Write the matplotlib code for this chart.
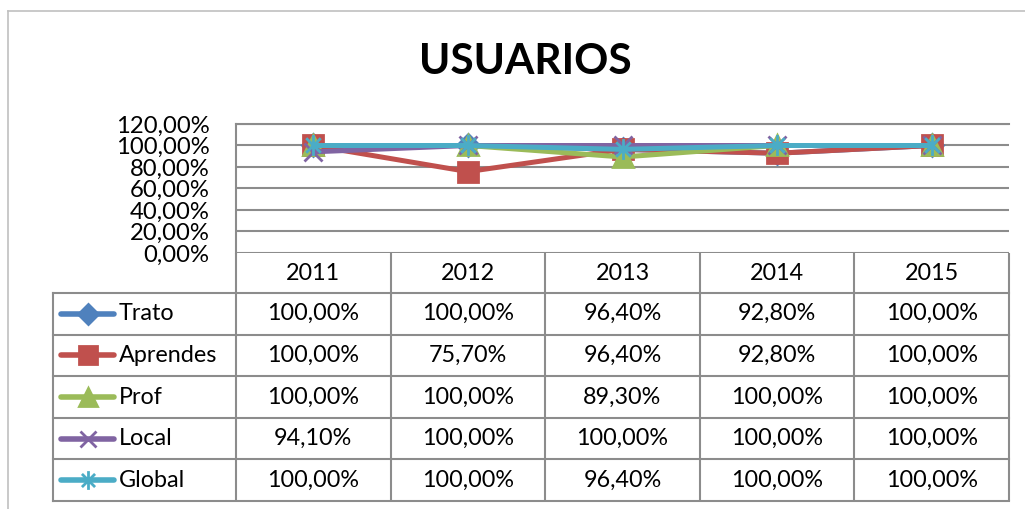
import matplotlib
matplotlib.use('Agg')
import matplotlib.pyplot as plt
from matplotlib.path import Path
from matplotlib.lines import Line2D

# datos
years = ['2011', '2012', '2013', '2014', '2015']
series = ['Trato', 'Aprendes', 'Prof', 'Local', 'Global']
trato = [1.000, 1.000, 0.964, 0.928, 1.000]
aprendes = [1.000, 0.757, 0.964, 0.928, 1.000]
prof = [1.000, 1.000, 0.893, 1.000, 1.000]
local = [0.941, 1.000, 1.000, 1.000, 1.000]
glob = [1.000, 1.000, 0.964, 1.000, 1.000]
yticks = [0.0, 0.2, 0.4, 0.6, 0.8, 1.0, 1.2]

valores = [trato, aprendes, prof, local, glob]
colores = ['#4F81BD', '#C0504D', '#9BBB59', '#8064A2', '#4BACC6']

# marcador asterisco (estrella de excel)
star = Path([(0, -1), (0, 1), (-0.7, -0.7), (0.7, 0.7), (-0.7, 0.7), (0.7, -0.7)],
            [Path.MOVETO, Path.LINETO, Path.MOVETO, Path.LINETO, Path.MOVETO, Path.LINETO])
marcadores = [('D', 11), ('s', 14), ('^', 14), ('x', 13), (star, 15)]

plt.rcParams['font.family'] = ['Lato', 'DejaVu Sans']

W, H = 1025, 509
fig = plt.figure(figsize=(W / 100, H / 100), dpi=100)

# ejes de fondo en pixeles
bg = fig.add_axes([0, 0, 1, 1])
bg.set_xlim(0, W)
bg.set_ylim(H, 0)
bg.axis('off')

gris = '#8c8c8c'
# borde del grafico
bg.plot([8, W], [11, 11], color='#c0c0c0', lw=1.2)
bg.plot([8, 8], [11, H], color='#c0c0c0', lw=1.2)

bg.text(525, 62, 'USUARIOS', ha='center', va='center', fontsize=30.5, fontweight='bold')

# geometria del area de trazado y de la tabla
x0, x1 = 236, 1009
ytop, ybot = 124, 253
hdr_bot = 293
row_h = (501 - hdr_bot) / len(series)
col_w = (x1 - x0) / len(years)
tab_left = 53

# lineas de la tabla
for i in range(len(years) + 1):
    bg.plot([x0 + i * col_w] * 2, [ybot, 501], color=gris, lw=1.5, solid_capstyle='butt')
bg.plot([tab_left, tab_left], [hdr_bot, 501], color=gris, lw=1.5)
for r in range(len(series) + 1):
    bg.plot([tab_left, x1], [hdr_bot + r * row_h] * 2, color=gris, lw=1.5)

fs = 16.8
for i, y in enumerate(years):
    bg.text(x0 + (i + 0.5) * col_w, 273, y, ha='center', va='center', fontsize=fs)

def fmt(v):
    return ('%.2f' % (v * 100)).replace('.', ',') + '%'

for r, (nombre, vals, c, (m, ms)) in enumerate(zip(series, valores, colores, marcadores)):
    yc = hdr_bot + (r + 0.5) * row_h
    bg.add_line(Line2D([61, 114], [yc, yc], color=c, lw=4, solid_capstyle='round'))
    bg.plot([88], [yc], marker=m, ms=ms * 0.9, color=c, mec=c, mew=2, linestyle='none')
    bg.text(119, yc, nombre, ha='left', va='center', fontsize=fs)
    for i, v in enumerate(vals):
        bg.text(x0 + (i + 0.5) * col_w, yc, fmt(v), ha='center', va='center', fontsize=fs)

# grafico de lineas
ax = fig.add_axes([x0 / W, 1 - ybot / H, (x1 - x0) / W, (ybot - ytop) / H])
ax.patch.set_alpha(0)
xs = list(range(len(years)))
for nombre, vals, c, (m, ms) in zip(series, valores, colores, marcadores):
    ax.plot(xs, vals, color=c, lw=3.6, marker=m, ms=ms, mec=c, mew=2, label=nombre,
            solid_joinstyle='round', clip_on=False)

ax.set_xlim(-0.5, len(years) - 0.5)
ax.set_ylim(0, 1.2)
ax.set_yticks(yticks)
ax.set_yticklabels([fmt(t) for t in yticks], fontsize=17.2)
ax.tick_params(axis='y', length=0, pad=19)
ax.set_xticks([])
ax.grid(axis='y', color=gris, lw=1.5)
ax.set_axisbelow(True)
for s in ['right', 'bottom']:
    ax.spines[s].set_visible(False)
ax.spines['left'].set_color(gris)
ax.spines['left'].set_linewidth(1.5)
ax.spines['top'].set_color(gris)
ax.spines['top'].set_linewidth(1.5)

fig.savefig('out.png', dpi=100)
